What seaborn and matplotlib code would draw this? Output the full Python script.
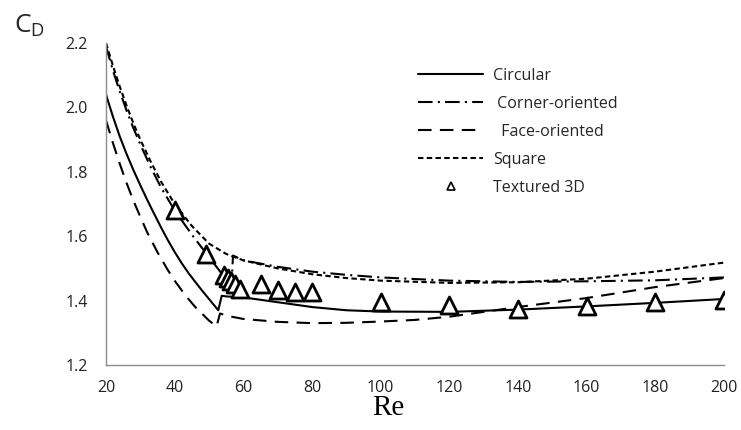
import matplotlib
matplotlib.use("Agg")
import matplotlib.pyplot as plt
from matplotlib.lines import Line2D
import seaborn as sns
import pandas as pd

# ---- data ----
re_circ = [20, 22, 24, 26, 28, 30, 32, 34, 36, 38, 40, 42, 44, 46, 48, 50, 52.7, 53.7, 55, 60, 70, 80, 90, 100, 120, 140, 160, 180, 200]
cd_circ = [2.04, 1.972, 1.91, 1.855, 1.805, 1.758, 1.713, 1.67, 1.628, 1.588, 1.551, 1.517, 1.486, 1.458, 1.431, 1.405, 1.37, 1.415, 1.413, 1.41, 1.395, 1.38, 1.37, 1.366, 1.365, 1.372, 1.382, 1.393, 1.405]

re_corner = [20, 22, 24, 26, 28, 30, 33, 36, 40, 45, 50, 54, 56.5, 57, 60, 70, 80, 90, 100, 120, 140, 160, 180, 200]
cd_corner = [2.19, 2.115, 2.05, 1.99, 1.935, 1.885, 1.815, 1.752, 1.68, 1.605, 1.535, 1.48, 1.44, 1.54, 1.525, 1.505, 1.49, 1.48, 1.472, 1.462, 1.458, 1.46, 1.463, 1.472]

re_face = [20, 22, 24, 26, 28, 30, 32, 35, 38, 40, 43, 46, 50, 52.2, 53.2, 55.6, 60, 70, 80, 90, 100, 110, 120, 140, 160, 180, 200]
cd_face = [1.96, 1.89, 1.825, 1.765, 1.71, 1.66, 1.612, 1.55, 1.495, 1.462, 1.418, 1.38, 1.338, 1.32, 1.36, 1.352, 1.343, 1.334, 1.33, 1.331, 1.335, 1.34, 1.35, 1.38, 1.408, 1.442, 1.47]

re_square = [20, 22, 24, 26, 28, 30, 33, 36, 40, 45, 50, 55, 60, 70, 80, 90, 100, 120, 140, 160, 180, 200]
cd_square = [2.20, 2.13, 2.065, 2.005, 1.95, 1.9, 1.832, 1.77, 1.70, 1.632, 1.577, 1.545, 1.525, 1.50, 1.482, 1.47, 1.462, 1.455, 1.457, 1.468, 1.49, 1.518]

re_tex = [40, 49, 54.5, 55.5, 56.5, 57.5, 59, 65, 70, 75, 80, 100, 120, 140, 160, 180, 200]
cd_tex = [1.68, 1.545, 1.48, 1.47, 1.46, 1.45, 1.435, 1.45, 1.433, 1.427, 1.427, 1.396, 1.386, 1.375, 1.383, 1.396, 1.403]

x_ticks = [20, 40, 60, 80, 100, 120, 140, 160, 180, 200]
y_ticks = [1.2, 1.4, 1.6, 1.8, 2.0, 2.2]
y_tick_labels = ["1.2", "1.4", "1.6", "1.8", "2.0", "2.2"]
labels = ["Circular", " Corner-oriented", "  Face-oriented", "Square", "Textured 3D"]

# ---- style ----
sns.set_style("white")
plt.rcParams["font.family"] = ["Open Sans", "DejaVu Sans"]

fig = plt.figure(figsize=(7.41, 4.30), dpi=100)
ax = fig.add_axes([106 / 741, 1 - 365 / 430, (724 - 106) / 741, (365 - 43) / 430])

lw = 1.5
styles = [
    (re_circ, cd_circ, "-"),
    (re_corner, cd_corner, (0, (7, 2.5, 1, 2.5))),
    (re_face, cd_face, (0, (6.5, 4))),
    (re_square, cd_square, (0, (2.6, 1.6))),
]
handles = []
for (xs, ys, ls), lab in zip(styles, labels[:4]):
    df = pd.DataFrame({"Re": xs, "CD": ys})
    sns.lineplot(data=df, x="Re", y="CD", ax=ax, color="black", lw=lw,
                 linestyle=ls, estimator=None, sort=False, legend=False)
    handles.append(Line2D([0], [0], color="black", lw=lw, linestyle=ls, label=lab))

df_tex = pd.DataFrame({"Re": re_tex, "CD": cd_tex})
sns.scatterplot(data=df_tex, x="Re", y="CD", ax=ax, marker="^", s=150,
                facecolor="white", edgecolor="black", linewidth=2.0, zorder=5, legend=False)
handles.append(Line2D([0], [0], marker="^", color="none", markerfacecolor="white",
                      markeredgecolor="black", markersize=6, markeredgewidth=1.2, label=labels[4]))

ax.set_xlim(20, 200)
ax.set_ylim(1.2, 2.2)
ax.set_xticks(x_ticks)
ax.set_yticks(y_ticks)
ax.set_yticklabels(y_tick_labels)
ax.set_xlabel("")
ax.set_ylabel("")
for s in ["top", "right"]:
    ax.spines[s].set_visible(False)
for s in ["left", "bottom"]:
    ax.spines[s].set_color("#8c8c8c")
    ax.spines[s].set_linewidth(1.0)
ax.tick_params(axis="both", direction="out", length=5, width=1, color="#8c8c8c",
               labelsize=11.5, labelcolor="#222222", pad=6)
ax.tick_params(axis="y", pad=8)

fig.text(388 / 741, 1 - 408 / 430, "Re", family="Liberation Serif", fontsize=21,
         ha="center", va="center", color="black")
fig.text(14 / 741, 1 - 26 / 430, r"C$_\mathregular{D}$", fontsize=19, ha="left", va="center")

leg = ax.legend(handles=handles, loc="upper left", bbox_to_anchor=(410 / 741, 1 - 60 / 430),
                bbox_transform=fig.transFigure, frameon=False, fontsize=11.5,
                handlelength=4.1, handletextpad=0.6, labelspacing=0.75, borderpad=0)

fig.savefig("out.png", dpi=100)
